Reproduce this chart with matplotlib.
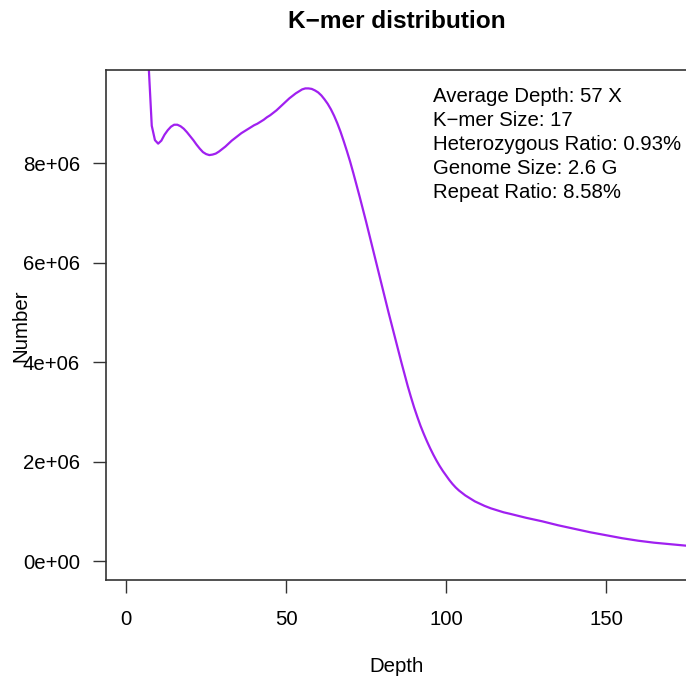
import matplotlib
matplotlib.use("Agg")
import matplotlib.pyplot as plt

plt.rcParams['font.family'] = ['Liberation Sans', 'DejaVu Sans']

depth = [5, 6, 7, 8, 9, 10, 11, 12, 13, 14, 15, 16, 17, 18, 19, 20, 21, 22, 23, 24,
         25, 26, 27, 28, 29, 30, 31, 32, 33, 34, 35, 36, 37, 38, 39, 40, 41, 42, 43, 44,
         45, 46, 47, 48, 49, 50, 51, 52, 53, 54, 55, 56, 57, 58, 59, 60, 61, 62, 63, 64,
         65, 66, 67, 68, 69, 70, 71, 72, 73, 74, 75, 76, 77, 78, 79, 80, 81, 82, 83, 84,
         85, 86, 87, 88, 89, 90, 91, 92, 93, 94, 95, 96, 97, 98, 99, 100, 101, 102, 103, 104,
         105, 106, 107, 108, 109, 110, 112, 114, 116, 118, 120, 125, 130, 135, 140, 145, 150,
         155, 160, 165, 170, 175, 180]
number = [16.0, 12.5, 10.0, 8.75, 8.46, 8.39, 8.45, 8.57, 8.66, 8.73, 8.77, 8.77, 8.74, 8.69, 8.62, 8.54, 8.46, 8.37, 8.29, 8.22,
          8.18, 8.16, 8.17, 8.19, 8.23, 8.28, 8.33, 8.39, 8.45, 8.50, 8.55, 8.60, 8.64, 8.68, 8.72, 8.76, 8.79, 8.83, 8.87, 8.92,
          8.96, 9.01, 9.06, 9.12, 9.18, 9.24, 9.30, 9.35, 9.40, 9.44, 9.48, 9.50, 9.50, 9.49, 9.46, 9.42, 9.36, 9.28, 9.19, 9.08,
          8.95, 8.80, 8.63, 8.44, 8.24, 8.03, 7.80, 7.56, 7.32, 7.07, 6.82, 6.56, 6.30, 6.04, 5.78, 5.52, 5.26, 5.00, 4.75, 4.50,
          4.25, 4.00, 3.76, 3.52, 3.30, 3.09, 2.90, 2.72, 2.56, 2.41, 2.27, 2.14, 2.02, 1.91, 1.81, 1.72, 1.63, 1.55, 1.48, 1.42,
          1.37, 1.32, 1.28, 1.24, 1.20, 1.17, 1.11, 1.06, 1.02, 0.98, 0.95, 0.87, 0.80, 0.72, 0.65, 0.58, 0.52,
          0.46, 0.41, 0.37, 0.34, 0.31, 0.28]
number = [v * 1e6 for v in number]

xticks = [0, 50, 100, 150]
yticks = [0, 2e6, 4e6, 6e6, 8e6]
ytick_labels = ["0e+00", "2e+06", "4e+06", "6e+06", "8e+06"]

info = ["Average Depth: 57 X", "K\u2212mer Size: 17", "Heterozygous Ratio: 0.93%",
        "Genome Size: 2.6 G", "Repeat Ratio: 8.58%"]

W, H = 686, 678
fig = plt.figure(figsize=(W / 100, H / 100), dpi=100)
left, right, top, bottom = 106, 687, 70, 580
ax = fig.add_axes([left / W, (H - bottom) / H, (right - left) / W, (bottom - top) / H])

ax.plot(depth, number, color="#A020F0", linewidth=1.6)
ax.set_xlim(-6.3, 175.3)
ax.set_ylim(-0.38e6, 9.87e6)
ax.set_xticks(xticks)
ax.set_xticklabels([str(t) for t in xticks])
ax.set_yticks(yticks)
ax.set_yticklabels(ytick_labels)
ax.tick_params(direction="out", length=9.4, width=1, labelsize=14.7, color="#333333")
ax.tick_params(axis="x", pad=12)
ax.tick_params(axis="y", pad=9.5)
for s in ax.spines.values():
    s.set_color("#333333")
    s.set_linewidth(1.2)

fig.text(397 / W, 1 - 21 / H, "K\u2212mer distribution", ha="center", va="center",
         fontsize=17.6, fontweight="bold")
fig.text(397 / W, 1 - 666 / H, "Depth", ha="center", va="center", fontsize=14.7)
fig.text(21 / W, 1 - 326 / H, "Number", ha="center", va="center", fontsize=14.7, rotation=90)

for i, line in enumerate(info):
    ax.text(433 / W, 1 - (96 + 24.2 * i) / H, line, transform=fig.transFigure,
            ha="left", va="center", fontsize=14.7)

fig.savefig("out.png", dpi=100)
